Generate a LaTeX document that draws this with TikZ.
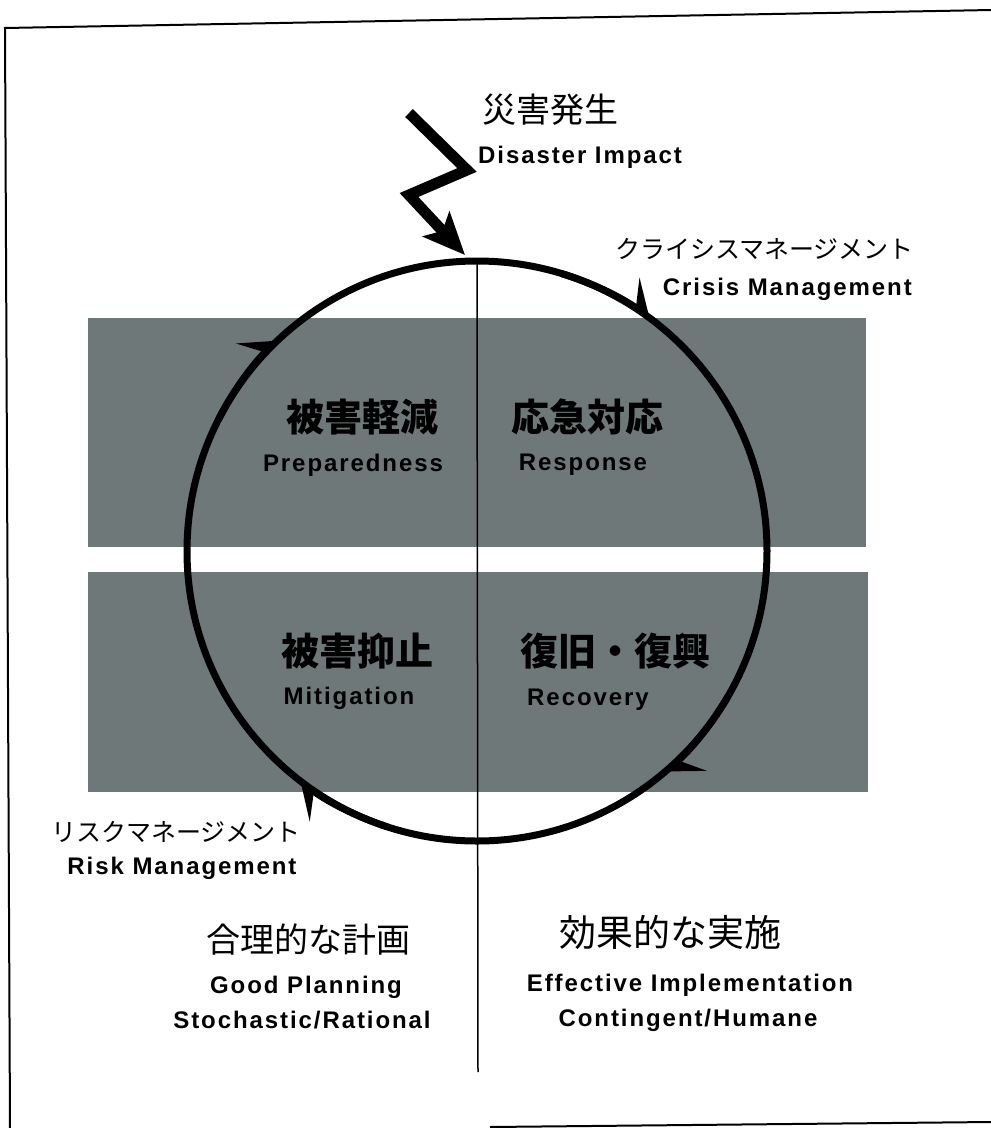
\documentclass[tikz,border=0pt]{standalone}
\usepackage{fontspec}
\newfontfamily\jp{Noto Sans CJK JP}
\newfontfamily\enfont{Liberation Sans}[LetterSpace=8]
\usetikzlibrary{arrows.meta}
\definecolor{boxgray}{RGB}{110,120,120}
\tikzset{
  graybox/.style={fill=boxgray},
  ringline/.style={line width=7pt},
  ringarrow/.style={line width=7pt,-{Stealth[harpoon,length=32pt,width=52pt,inset=15pt]}},
  bolt/.style={line width=11pt,miter limit=10,-{Stealth[length=42pt,width=36pt,inset=9pt]}},
  thinline/.style={line width=1.5pt},
  frameline/.style={line width=2pt},
  en/.style={inner sep=0pt,font=\enfont\bfseries\fontsize{24}{28}\selectfont},
  jpout/.style={inner sep=0pt,font=\jp\fontsize{34}{40}\selectfont},
  jpin/.style={inner sep=0pt,font=\jp\bfseries\fontsize{38}{44}\selectfont},
  kana/.style={inner sep=0pt,font=\jp\fontsize{25}{30}\selectfont},
}
\begin{document}
\begin{tikzpicture}[x=1pt,y=1pt]
\useasboundingbox (0,0) rectangle (991,-1128);
\fill[white] (0,0) rectangle (991,-1128);
% frame
\coordinate (ftl) at (5,-28);
\coordinate (ftr) at (991,-10);
\coordinate (fbl) at (10,-1128);
\coordinate (fbm) at (490,-1127);
\coordinate (fbr) at (991,-1122);
\draw[frameline] (ftr) -- (ftl) -- (fbl);
\draw[frameline] (fbm) -- (fbr);
% gray bands
\fill[graybox] (88,-318) rectangle (866,-547);
\fill[graybox] (88,-572) rectangle (868,-792);
% vertical divider
\coordinate (vtop) at (477,-262);
\coordinate (vbot) at (478,-1072);
\draw[thinline] (vtop) -- (vbot);
% cycle
\coordinate (c) at (477,-551);
\draw[ringline] (c) circle[radius=290pt];
\draw[ringarrow] (c) ++(153:290pt) arc[start angle=153,end angle=133,radius=290pt];
\draw[ringarrow] (c) ++(73:290pt) arc[start angle=73,end angle=53,radius=290pt];
\draw[ringarrow] (c) ++(-30:290pt) arc[start angle=-30,end angle=-50,radius=290pt];
\draw[ringarrow] (c) ++(-108:290pt) arc[start angle=-108,end angle=-128,radius=290pt];
% lightning bolt
\coordinate (b1) at (409,-113);
\coordinate (b2) at (467,-170);
\coordinate (b3) at (409,-195);
\coordinate (b4) at (465,-255);
\draw[bolt] (b1) -- (b2) -- (b3) -- (b4);
% texts
\node[jpout,anchor=west] (t1) at (482,-110) {災害発生};
\node[en,anchor=west] (t2) at (478,-157) {Disaster Impact};
\node[kana,anchor=east] (t3) at (914,-249) {クライシスマネージメント};
\node[en,anchor=east] (t4) at (912,-289) {Crisis Management};
\node[jpin] (t5) at (362,-417) {被害軽減};
\node[en] (t6) at (353,-465) {Preparedness};
\node[jpin] (t7) at (587,-417) {応急対応};
\node[en] (t8) at (583,-465) {Response};
\node[jpin] (t9) at (357,-651) {被害抑止};
\node[en] (t10) at (349,-698) {Mitigation};
\node[jpin] (t11) at (615,-651) {復旧・復興};
\node[en] (t12) at (588,-700) {Recovery};
\node[kana] (t13) at (176,-832) {リスクマネージメント};
\node[en] (t14) at (182,-868) {Risk Management};
\node[jpout] (t15) at (308,-940) {合理的な計画};
\node[en] (t16) at (306,-987) {Good Planning};
\node[en] (t17) at (302,-1020) {Stochastic/Rational};
\node[jpout,font=\jp\fontsize{37}{44}\selectfont] (t18) at (670,-932) {効果的な実施};
\node[en] (t19) at (690,-985) {Effective Implementation};
\node[en] (t20) at (688,-1020) {Contingent/Humane};
\end{tikzpicture}
\end{document}
